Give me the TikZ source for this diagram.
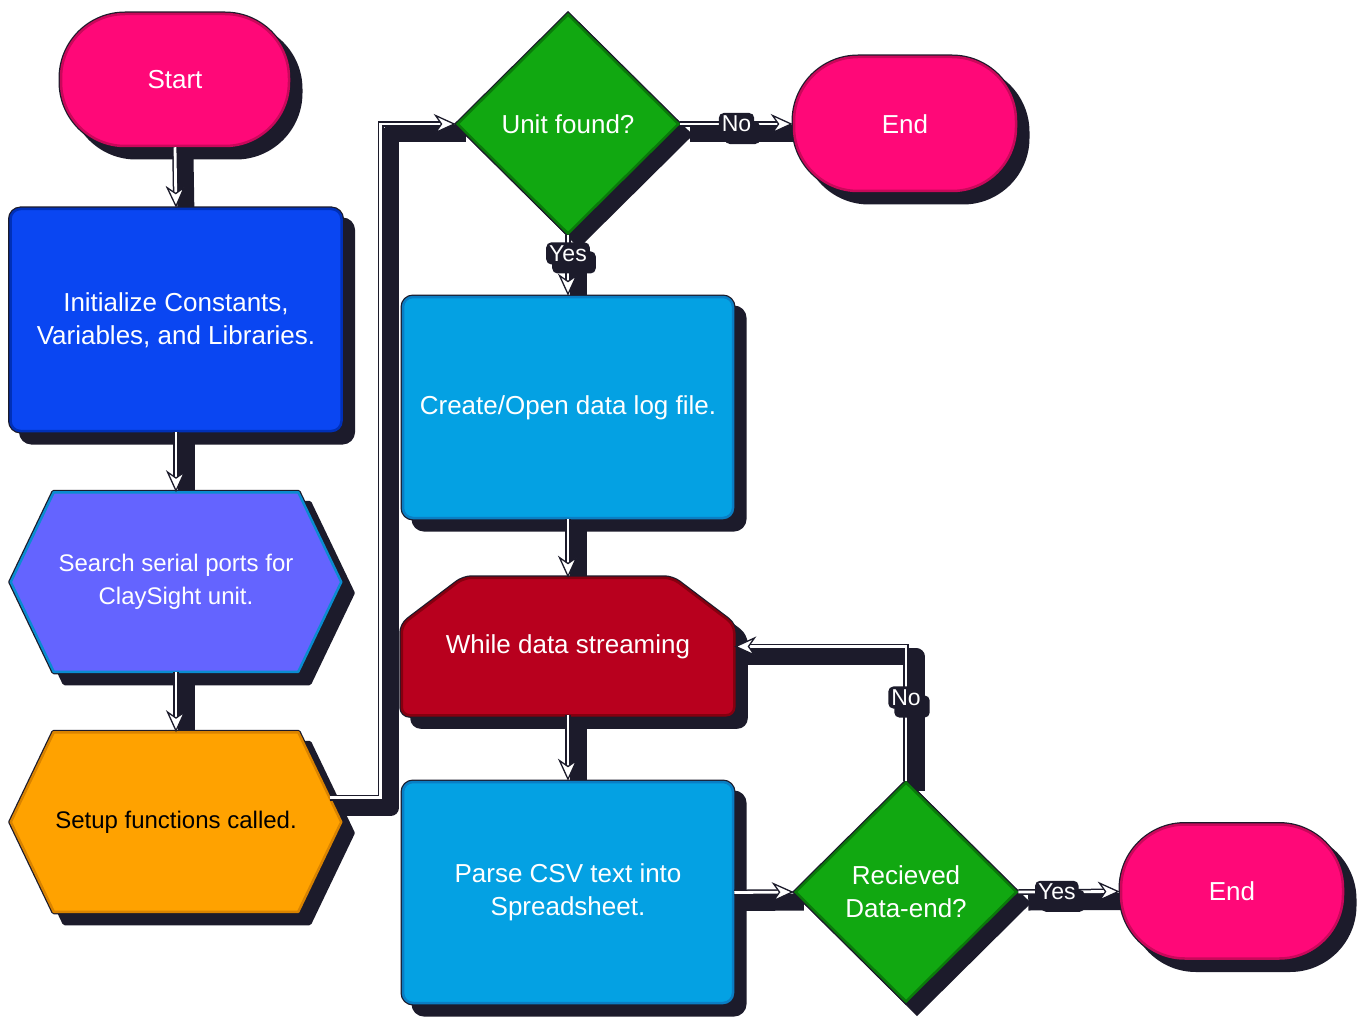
\documentclass[tikz,border=0pt]{standalone}
\usepackage{fontspec}
\setmainfont{Liberation Sans}
\usetikzlibrary{shapes.geometric, arrows.meta, shadows, calc}
\pgfdeclarelayer{bg}
\pgfdeclarelayer{shp}
\pgfsetlayers{bg,shp,main}

\definecolor{shadowc}{HTML}{1C1B2B}
\definecolor{pinkf}{HTML}{FF0878}
\definecolor{pinkd}{HTML}{C8085A}
\definecolor{bluef}{HTML}{0A46F2}
\definecolor{blued}{HTML}{0030B8}
\definecolor{violf}{HTML}{6464FF}
\definecolor{viold}{HTML}{0A8CD0}
\definecolor{orangef}{HTML}{FFA200}
\definecolor{oranged}{HTML}{D98300}
\definecolor{greenf}{HTML}{11A811}
\definecolor{greend}{HTML}{0A7A0A}
\definecolor{skyf}{HTML}{04A1E3}
\definecolor{skyd}{HTML}{0A7EC4}
\definecolor{redf}{HTML}{B8001E}
\definecolor{redd}{HTML}{85000F}

\newcommand\hexp[2]{(#1.west) -- ([xshift=#2]#1.north west) -- ([xshift=-#2]#1.north east) -- (#1.east) -- ([xshift=-#2]#1.south east) -- ([xshift=#2]#1.south west) -- cycle}
\newcommand\whp[1]{(#1.south west) -- ([yshift=-47]#1.north west) -- ([xshift=62]#1.north west) -- ([xshift=-62]#1.north east) -- ([yshift=-47]#1.north east) -- (#1.south east) -- cycle}

\tikzset{
  sh/.style={drop shadow={shadow xshift=11pt, shadow yshift=-11pt, fill=shadowc, draw=shadowc, line width=5pt, opacity=1},
    preaction={draw=shadowc, line width=5pt}},
  base/.style={text=white, align=center, font=\fontsize{26}{33}\selectfont, line width=2.5, inner sep=0pt},
  term/.style={base, sh, rectangle, rounded corners=64, minimum width=228, minimum height=132, fill=pinkf, draw=pinkd},
  dia/.style={base, sh, diamond, aspect=1, minimum width=222, minimum height=220, fill=greenf, draw=greend},
  box/.style={base, sh, rectangle, rounded corners=10, minimum width=330, minimum height=221, fill=skyf, draw=skyd},
  hexn/.style={base, rectangle, minimum width=328, minimum height=177, font=\fontsize{24}{33}\selectfont},
  whn/.style={base, rectangle, minimum width=330, minimum height=135},
  pshadow/.style={fill=shadowc, draw=shadowc, line width=5, line join=round, transform canvas={shift={(11pt,-11pt)}}},
  pedge/.style={draw=shadowc, line width=5, line join=round},
  cshadow/.style={draw=shadowc, line width=17, line join=round, transform canvas={shift={(10pt,-10pt)}}},
  cline/.style={draw=white, line width=2.8,
    -{Stealth[length=22, width=20, inset=7, color=shadowc, fill=white, line width=1.3]},
    preaction={draw=shadowc, line width=5.8, shorten >=14, arrows=-}},
  lbl/.style={fill=shadowc, text=white, rounded corners=5, inner xsep=3, inner ysep=3,
    font=\fontsize{23}{23}\selectfont,
    drop shadow={shadow xshift=6pt, shadow yshift=-9pt, fill=shadowc, opacity=1}}
}

\begin{document}
\begin{tikzpicture}[x=1pt, y=-1pt]
\begin{pgfonlayer}{bg}
\fill[white] (0,0) rectangle (1362,1019);
\end{pgfonlayer}
\useasboundingbox (0,0) rectangle (1362,1019);

% nodes
\node[term] (start) at (175,80) {Start};
\node[box, fill=bluef, draw=blued, minimum width=331, minimum height=222] (init) at (176,320) {Initialize Constants,\\Variables, and Libraries.};
\node[hexn] (search) at (176,582) {Search serial ports for\\ClaySight unit.};
\node[hexn, text=black] (setup) at (176,822) {Setup functions called.};
\node[dia] (unit) at (568,124) {Unit found?};
\node[term, minimum width=222, minimum height=134] (end1) at (905,124) {End};
\node[box] (create) at (568,407.5) {Create/Open data log file.};
\node[whn] (while) at (568,646.5) {While data streaming};
\node[box] (parse) at (568,892.5) {Parse CSV text into\\Spreadsheet.};
\node[dia] (recv) at (906,892) {Recieved\\Data-end?};
\node[term, minimum width=222, minimum height=134] (end2) at (1232,891.5) {End};

\coordinate (setupout) at ($([xshift=-43]setup.north east)!0.73!(setup.east)$);
\coordinate (bendup) at ($(unit.west)+(-75,0)$);

% manually drawn shapes
\begin{pgfonlayer}{shp}
\filldraw[pshadow] \hexp{search}{43};
\draw[pedge] \hexp{search}{43};
\filldraw[fill=violf, draw=viold, line width=2.5, line join=round] \hexp{search}{43};
\filldraw[pshadow] \hexp{setup}{43};
\draw[pedge] \hexp{setup}{43};
\filldraw[fill=orangef, draw=oranged, line width=2.5, line join=round] \hexp{setup}{43};
\filldraw[pshadow, rounded corners=8] \whp{while};
\draw[pedge, rounded corners=8] \whp{while};
\filldraw[fill=redf, draw=redd, line width=2.5, rounded corners=8] \whp{while};
\end{pgfonlayer}

% connector shadows
\begin{pgfonlayer}{bg}
\draw[cshadow] (start.south) -- (init.north);
\draw[cshadow] (init.south) -- (search.north);
\draw[cshadow] (search.south) -- (setup.north);
\draw[cshadow] (setupout) -| (bendup) -- (unit.west);
\draw[cshadow] (unit.east) -- (end1.west);
\draw[cshadow] (unit.south) -- (create.north);
\draw[cshadow] (create.south) -- (while.north);
\draw[cshadow] (while.south) -- (parse.north);
\draw[cshadow] (parse.east) -- (recv.west);
\draw[cshadow] (recv.north) |- (while.east);
\draw[cshadow] (recv.east) -- (end2.west);
\end{pgfonlayer}

% connectors
\draw[cline] (start.south) -- (init.north);
\draw[cline] (init.south) -- (search.north);
\draw[cline] (search.south) -- (setup.north);
\draw[cline] (setupout) -| (bendup) -- (unit.west);
\draw[cline] (unit.east) -- node[lbl, pos=0.5] {No} (end1.west);
\draw[cline] (unit.south) -- node[lbl, pos=0.3] {Yes} (create.north);
\draw[cline] (create.south) -- (while.north);
\draw[cline] (while.south) -- (parse.north);
\draw[cline] (parse.east) -- (recv.west);
\draw[cline] (recv.north) |- node[lbl, pos=0.31] {No} (while.east);
\draw[cline] (recv.east) -- node[lbl, pos=0.38] {Yes} (end2.west);
\end{tikzpicture}
\end{document}
